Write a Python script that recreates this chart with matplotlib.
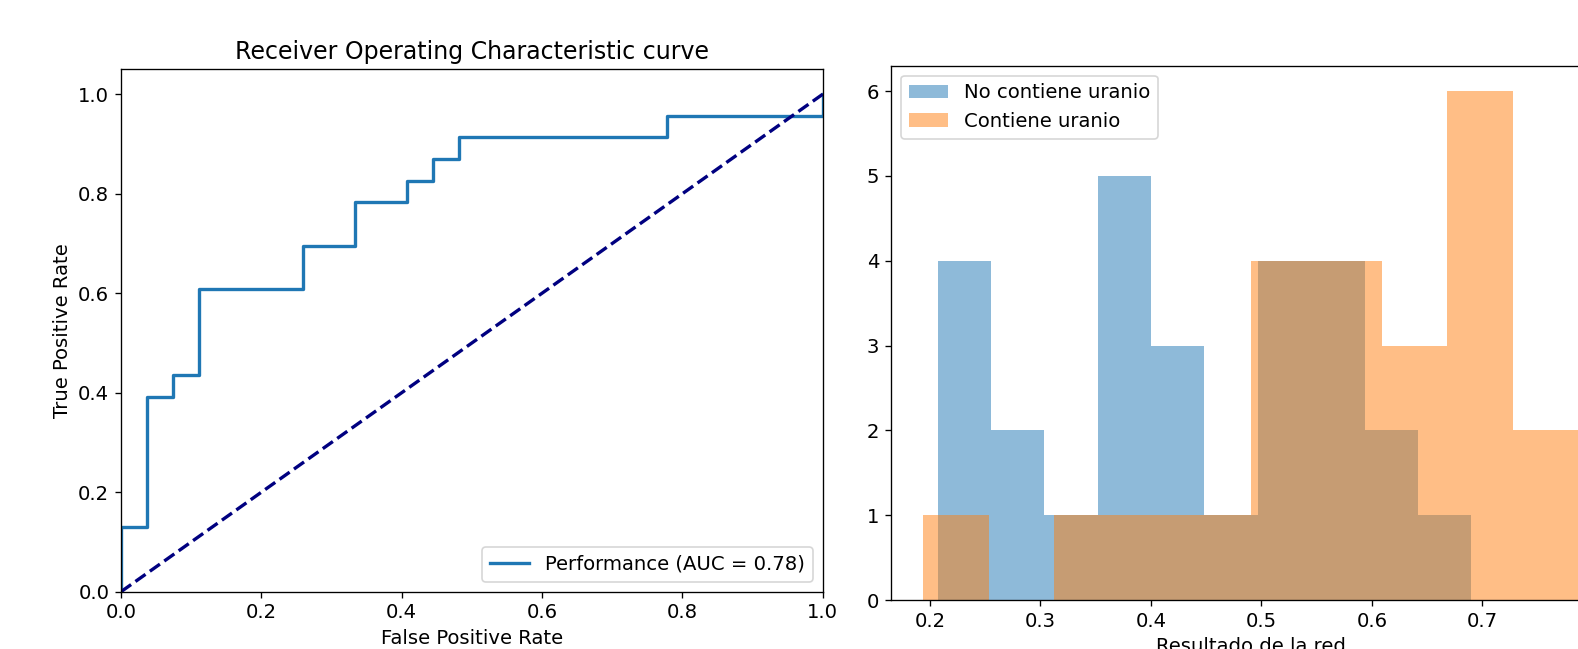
import matplotlib
matplotlib.use("Agg")
import matplotlib.pyplot as plt

# ROC curve points (27 negatives, 23 positives)
fpr = [0, 0, 1/27, 1/27, 2/27, 2/27, 3/27, 3/27, 7/27, 7/27, 9/27, 9/27,
       11/27, 11/27, 12/27, 12/27, 13/27, 13/27, 21/27, 21/27, 1, 1]
tpr = [0, 3/23, 3/23, 9/23, 9/23, 10/23, 10/23, 14/23, 14/23, 16/23, 16/23,
       18/23, 18/23, 19/23, 19/23, 20/23, 20/23, 21/23, 21/23, 22/23, 22/23, 1]
auc_value = 0.78

# histogram of network output
bins_no = [0.207, 0.2553, 0.3036, 0.3519, 0.4002, 0.4485, 0.4968, 0.5451,
           0.5934, 0.6417, 0.690]
counts_no = [4, 2, 1, 5, 3, 1, 4, 4, 2, 1]
bins_si = [0.194, 0.2533, 0.3126, 0.3719, 0.4312, 0.4905, 0.5498, 0.6091,
           0.6684, 0.7277, 0.787]
counts_si = [1, 0, 1, 1, 1, 4, 4, 3, 6, 2]


def main():
    plt.rcParams['font.size'] = 11.8
    fig = plt.figure(figsize=(1578 / 120, 649 / 120), dpi=120)

    ax1 = fig.add_axes([0.0767, 0.0883, 0.4447, 0.8049])
    ax1.plot(fpr, tpr, color="C0", lw=2,
             label="Performance (AUC = %0.2f)" % auc_value)
    ax1.plot([0, 1], [0, 1], color="navy", lw=2, linestyle="--")
    ax1.set_xlim(0.0, 1.0)
    ax1.set_ylim(0.0, 1.05)
    ax1.set_xlabel("False Positive Rate")
    ax1.set_ylabel("True Positive Rate")
    ax1.set_title("Receiver Operating Characteristic curve")
    ax1.legend(loc="lower right")

    ax2 = fig.add_axes([0.5646, 0.0755, 0.4564, 0.8233])
    centers_no = [(a + b) / 2 for a, b in zip(bins_no[:-1], bins_no[1:])]
    centers_si = [(a + b) / 2 for a, b in zip(bins_si[:-1], bins_si[1:])]
    ax2.hist(centers_no, bins=bins_no, weights=counts_no, alpha=0.5,
             label="No contiene uranio")
    ax2.hist(centers_si, bins=bins_si, weights=counts_si, alpha=0.5,
             label="Contiene uranio")
    ax2.set_xlim(0.1647, 0.8166)
    ax2.set_ylim(0, 6.3)
    ax2.set_xlabel("Resultado de la red")
    ax2.legend(loc="upper left")

    fig.savefig("out.png", dpi=120)


if __name__ == "__main__":
    main()
